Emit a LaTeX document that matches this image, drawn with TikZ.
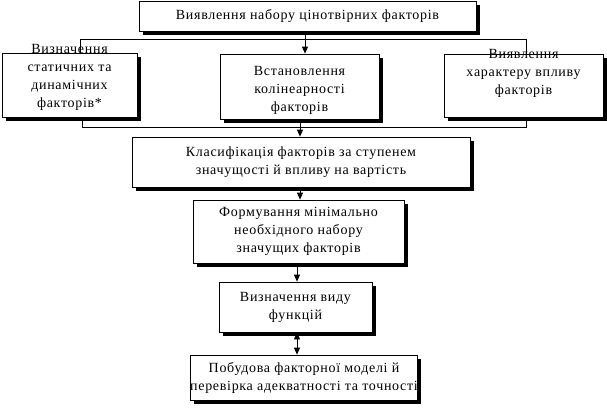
\documentclass[tikz,border=0pt]{standalone}
\usepackage{fontspec}
\setmainfont{Liberation Serif}[LetterSpace=5]
\usetikzlibrary{shadows,arrows.meta}

\begin{document}
\begin{tikzpicture}[x=1pt, y=-1pt,
  box/.style = {draw, fill=white, line width=.8pt, align=center, inner sep=0pt,
    drop shadow={shadow xshift=3.5pt, shadow yshift=-3.5pt, fill=black, opacity=1}},
  boxtext/.style = {align=center, inner sep=0pt},
  every node/.append style = {font=\fontsize{14}{18}\selectfont},
  >={Triangle[width=6pt,length=7pt]}, line width=.8pt]

\useasboundingbox (0,0) rectangle (607,407);

\node [box, minimum width=337pt, minimum height=30pt] (A) at (307.5, 16) {Виявлення набору цінотвірних факторів};

\node [box, minimum width=135pt, minimum height=64pt] (B) at (69.5, 85) {};
\node [boxtext] (Bt) at (69.5, 77) {Визначення\\статичних та\\динамічних\\факторів*};
\node [box, minimum width=159pt, minimum height=65pt] (C) at (299.5, 86.5) {};
\node [boxtext] (Ct) at (299.5, 90) {Встановлення\\колінеарності\\факторів};
\node [box, minimum width=159pt, minimum height=63pt] (D) at (523.5, 85.5) {};
\node [boxtext] (Dt) at (523.5, 73) {Виявлення\\характеру впливу\\факторів};

\node [box, minimum width=338pt, minimum height=50pt] (E) at (301, 162) {Класифікація факторів за ступенем\\значущості й впливу на вартість};
\node [box, minimum width=211pt, minimum height=63pt] (F) at (298.5, 231.5) {Формування мінімально\\необхідного набору\\значущих факторів};
\node [box, minimum width=153pt, minimum height=50pt] (G) at (295.5, 307) {Визначення виду\\функцій};
\node [box, minimum width=218pt, minimum height=45pt] (H) at (304, 377.5) {Побудова факторної моделі й\\перевірка адекватності та точності};

\coordinate (L1) at (80, 39);
\coordinate (R1) at (526, 39);
\coordinate (L2) at (82, 127);
\coordinate (R2) at (526, 127);

\draw (L1 |- B.north) -- (L1) -- (R1) -- (R1 |- D.north);
\draw[->] ([xshift=-2.5pt]A.south) -- ([xshift=-2.5pt]A.south |- C.north);
\draw (L2 |- B.south) -- (L2) -- (R2) -- (R2 |- D.south);
\draw[->] ([xshift=.5pt]C.south) -- ([xshift=.5pt]C.south |- E.north);
\draw[->] ([xshift=-1pt]E.south) -- ([xshift=-1pt]E.south |- F.north);
\draw[->] ([xshift=-1.5pt]F.south) -- ([xshift=-1.5pt]F.south |- G.north);
\draw[<->] ([xshift=1.5pt]G.south) -- ([xshift=1.5pt]G.south |- H.north);
\end{tikzpicture}
\end{document}
